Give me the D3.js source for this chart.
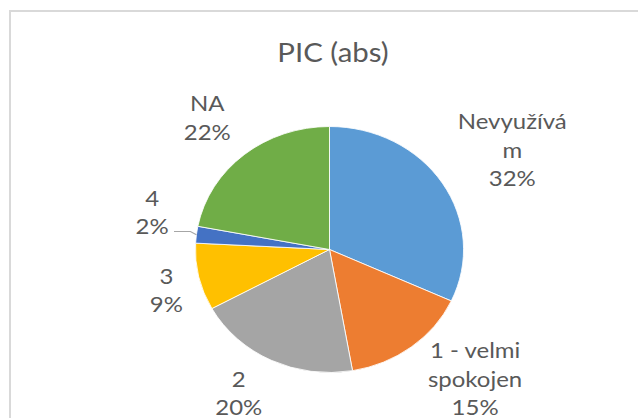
<!DOCTYPE html>
<html>
<head>
<meta charset="utf-8">
<script src="https://d3js.org/d3.v7.min.js"></script>
<style>
  body { margin: 0; background: #fff; }
  text { font-family: Lato, "Open Sans", sans-serif; fill: #595959; }
</style>
</head>
<body>
<div id="chart"></div>
<script>
var title = "PIC (abs)";
var categories = ["Nevyužívám", "1 - velmi spokojen", "2", "3", "4", "NA"];
var counts = [29, 14, 18, 8, 2, 20];
var percentLabels = ["32%", "15%", "20%", "9%", "2%", "22%"];
var labelLines = [["Nevyužívá", "m"], ["1 - velmi", "spokojen"], ["2"], ["3"], ["4"], ["NA"]];
var colors = ["#5B9BD5", "#ED7D31", "#A5A5A5", "#FFC000", "#4472C4", "#70AD47"];

var w = 638,
    h = 418,
    cx = 329.5,
    cy = 249.5,
    r = 123,
    sx = 1.09,   // reference is slightly stretched horizontally
    lh = 28.5;

// label placement: [angle (deg), radius] in unstretched pie space
var labelPos = [[59.3, 195], [134.1, 186], [210.1, 166], [254.9, 155], [283, 167], [319.6, 173]];

var svg = d3.select("#chart")
  .append("svg")
    .attr("width", w)
    .attr("height", h);

svg.append("rect")
    .attr("x", 10)
    .attr("y", 11)
    .attr("width", 700)
    .attr("height", 500)
    .attr("fill", "#fff")
    .attr("stroke", "#d9d9d9")
    .attr("stroke-width", 2);

svg.append("text")
    .attr("transform", "translate(333,62) scale(" + sx + ",1)")
    .attr("text-anchor", "middle")
    .style("font-size", "27px")
    .text(title);

var pie = d3.pie().sort(null).value(function(d) { return d; });
var arcs = pie(counts);
var arc = d3.arc().innerRadius(0).outerRadius(r);

var g = svg.append("g")
    .attr("transform", "translate(" + cx + "," + cy + ") scale(" + sx + ",1)");

g.selectAll("path")
  .data(arcs)
  .enter().append("path")
    .attr("d", arc)
    .attr("fill", function(d, i) { return colors[i]; })
    .attr("stroke", "#fff")
    .attr("stroke-width", 0.8);

function toPage(p) {
  return [cx + p[0] * sx, cy + p[1]];
}

// leader line for the small slice "4"
var small = arcs[4];
var edge = toPage(d3.pointRadial((small.startAngle + small.endAngle) / 2, r));
svg.append("path")
    .attr("d", "M174,231.5L" + (edge[0] - 6) + ",231.5L" + edge[0] + "," + edge[1])
    .attr("fill", "none")
    .attr("stroke", "#a6a6a6")
    .attr("stroke-width", 1.2);

var labels = svg.selectAll(".lbl")
  .data(arcs)
  .enter().append("text")
    .attr("class", "lbl")
    .attr("text-anchor", "middle")
    .style("font-size", "22px")
    .attr("transform", function(d, i) {
      var p = toPage(d3.pointRadial(labelPos[i][0] * Math.PI / 180, labelPos[i][1]));
      return "translate(" + p[0] + "," + p[1] + ") scale(" + sx + ",1)";
    });

labels.each(function(d, i) {
  var lines = labelLines[i].concat([percentLabels[i]]);
  var t = d3.select(this);
  lines.forEach(function(s, j) {
    t.append("tspan")
      .attr("x", 0)
      .attr("y", (j - (lines.length - 1) / 2) * lh)
      .attr("dy", "0.36em")
      .text(s);
  });
});
</script>
</body>
</html>
